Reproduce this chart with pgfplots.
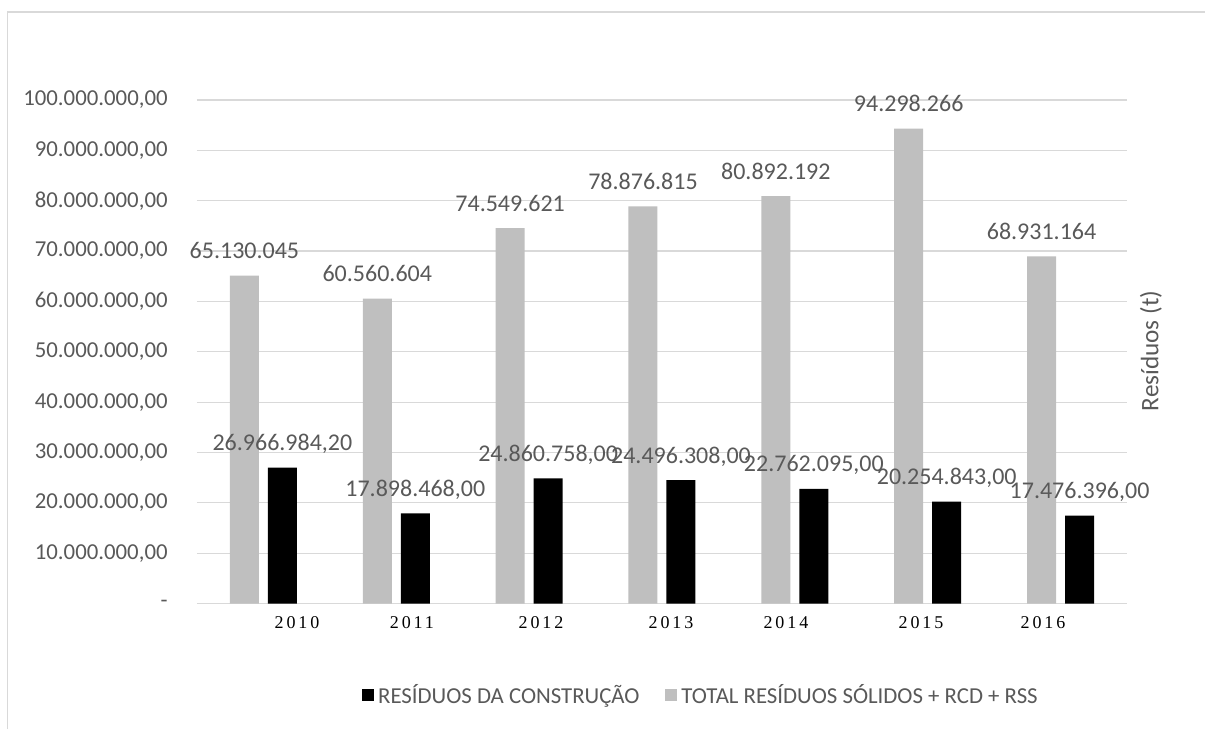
\documentclass[border=0pt]{standalone}
\usepackage{fontspec}
\setmainfont{Carlito}
\newfontfamily\yearfont{Liberation Serif}[LetterSpace=16]
\usepackage{pgfplots}
\pgfplotsset{compat=1.18}
\definecolor{txt}{HTML}{595959}
\definecolor{gridc}{HTML}{D9D9D9}
\definecolor{barg}{HTML}{BFBFBF}
\begin{document}
\begin{tikzpicture}[x=0.5pt,y=0.5pt]
\useasboundingbox (0,0) rectangle (1205,729);
\draw[gridc, line width=0.6pt] (7.5,0) -- (7.5,717) -- (1205,717);
\begin{axis}[
  at={(98.5pt,62.75pt)}, anchor=south west,
  scale only axis, width=465pt, height=251.75pt,
  ymin=0, ymax=100000000,
  xmin=-0.5, xmax=6.5,
  scaled y ticks=false,
  ybar, bar width=14.5pt,
  axis lines*=left,
  y axis line style={draw=none},
  x axis line style={draw=gridc, line width=0.6pt},
  major tick length=0pt,
  ymajorgrids, grid style={gridc, line width=0.6pt},
  ytick={0,10000000,20000000,30000000,40000000,50000000,60000000,70000000,80000000,90000000,100000000},
  yticklabels={-\hspace{5.5pt},{10.000.000,00},{20.000.000,00},{30.000.000,00},{40.000.000,00},{50.000.000,00},{60.000.000,00},{70.000.000,00},{80.000.000,00},{90.000.000,00},{100.000.000,00}},
  yticklabel style={anchor=east, inner sep=0pt, xshift=-14.5pt, font=\fontsize{11.4}{13}\selectfont, text=txt},
  xtick={0.253,1.118,2.089,3.068,3.933,4.95,5.868},
  xticklabels={2010,2011,2012,2013,2014,2015,2016},
  xticklabel style={anchor=center, inner sep=0pt, yshift=-9.75pt, font=\yearfont\fontsize{9}{11}\selectfont, text=black},
  nodes near coords, point meta=explicit symbolic,
  every node near coord/.append style={anchor=base, yshift=8.5pt, inner sep=0pt, font=\fontsize{12}{14}\selectfont, text=txt},
  clip=false,
  legend columns=2,
  legend style={draw=none, at={(axis description cs:0.543,-0.1817)}, anchor=center, font=\fontsize{11.4}{13}\selectfont, text=txt,
    /tikz/every even column/.append style={column sep=11pt}},
  legend image code/.code={\fill[#1] (0pt,-3pt) rectangle (6pt,3pt);},
]
\addplot[fill=black, draw=none, bar shift=9.5pt] coordinates {
 (0,26966984.2) [26.966.984,20]
 (1,17898468) [17.898.468,00]
 (2,24860758) [24.860.758,00]
 (3,24496308) [24.496.308,00]
 (4,22762095) [22.762.095,00]
 (5,20254843) [20.254.843,00]
 (6,17476396) [17.476.396,00]
};
\addlegendentry{RESÍDUOS DA CONSTRUÇÃO}
\addplot[fill=barg, draw=none, bar shift=-9.5pt] coordinates {
 (0,65130045) [65.130.045]
 (1,60560604) [60.560.604]
 (2,74549621) [74.549.621]
 (3,78876815) [78.876.815]
 (4,80892192) [80.892.192]
 (5,94298266) [94.298.266]
 (6,68931164) [68.931.164]
};
\addlegendentry{TOTAL RESÍDUOS SÓLIDOS + RCD + RSS}
\end{axis}
\node[rotate=90, text=txt, font=\fontsize{12.6}{15}\selectfont, inner sep=0pt] at (1151,378) {Resíduos (t)};
\end{tikzpicture}
\end{document}
